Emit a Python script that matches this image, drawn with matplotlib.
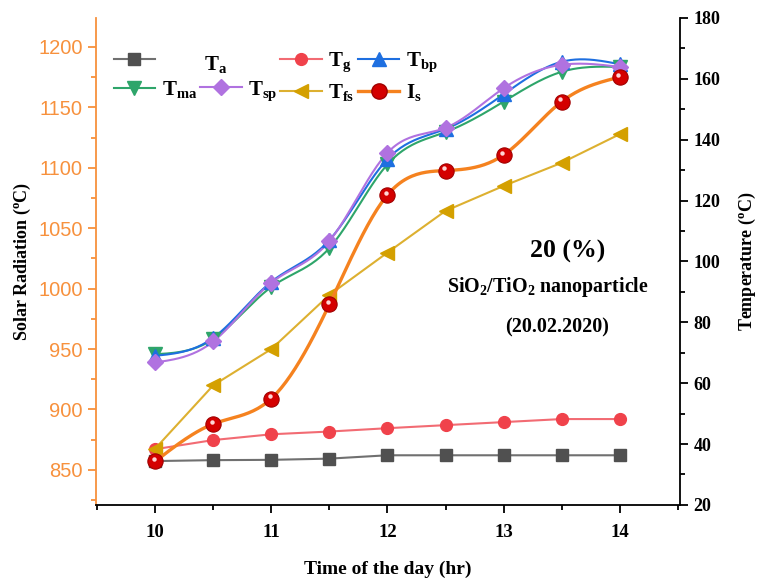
import numpy as np
import matplotlib
matplotlib.use("Agg")
import matplotlib.pyplot as plt
from matplotlib.lines import Line2D
from matplotlib.ticker import MultipleLocator

plt.rcParams['font.family'] = ['Liberation Serif', 'DejaVu Serif']
plt.rcParams['mathtext.fontset'] = 'custom'
plt.rcParams['mathtext.rm'] = 'Liberation Serif:bold'
plt.rcParams['mathtext.it'] = 'Liberation Serif:bold'
plt.rcParams['mathtext.bf'] = 'Liberation Serif:bold'

# ---------------- data ----------------
time_hr = [10, 10.5, 11, 11.5, 12, 12.5, 13, 13.5, 14]
T_a  = [34.4, 34.7, 34.8, 35.2, 36.3, 36.3, 36.3, 36.3, 36.3]
T_g  = [38.3, 41.3, 43.2, 44.1, 45.2, 46.2, 47.2, 48.2, 48.2]
T_bp = [69.0, 74.9, 93.3, 107.0, 133.6, 143.5, 154.9, 165.6, 164.8]
T_ma = [69.5, 74.5, 91.6, 104.4, 131.9, 142.5, 152.5, 162.3, 163.9]
T_sp = [66.8, 73.7, 93.0, 106.7, 135.7, 143.9, 156.9, 164.6, 163.9]
T_fs = [38.5, 59.3, 71.2, 89.0, 102.9, 116.6, 124.8, 132.4, 141.8]
I_s  = [857, 888, 909, 987, 1077.5, 1097.7, 1110.6, 1154.7, 1175]

x_ticks = [10, 11, 12, 13, 14]


def smooth(x, y, n=200):
    """Natural cubic spline for drawing a smooth line through the points."""
    x = np.asarray(x, float); y = np.asarray(y, float)
    m = len(x); h = np.diff(x)
    A = np.zeros((m, m)); r = np.zeros(m)
    A[0, 0] = A[-1, -1] = 1
    for i in range(1, m - 1):
        A[i, i - 1] = h[i - 1]; A[i, i] = 2 * (h[i - 1] + h[i]); A[i, i + 1] = h[i]
        r[i] = 3 * ((y[i + 1] - y[i]) / h[i] - (y[i] - y[i - 1]) / h[i - 1])
    c = np.linalg.solve(A, r)
    b = (y[1:] - y[:-1]) / h - h * (2 * c[:-1] + c[1:]) / 3
    d = (c[1:] - c[:-1]) / (3 * h)
    xs = np.linspace(x[0], x[-1], n)
    idx = np.clip(np.searchsorted(x, xs) - 1, 0, m - 2)
    dx = xs - x[idx]
    ys = y[idx] + b[idx] * dx + c[idx] * dx ** 2 + d[idx] * dx ** 3
    return xs, ys


fig = plt.figure(figsize=(7.59, 5.79), dpi=100)
ax = fig.add_axes([0.1265, 0.128, 0.7695, 0.841])
ax2 = ax.twinx()

orange = '#f7913d'

# right axis series
c_a, c_g, c_bp, c_ma, c_sp, c_fs = '#505050', '#f0424b', '#1e6fe0', '#2ea56a', '#b072e0', '#d4a000'
ax2.plot(time_hr, T_a, color='#707070', lw=1.5, marker='s', ms=8, mfc=c_a, mec=c_a, zorder=3)
ax2.plot(time_hr, T_g, color='#f26b73', lw=1.5, marker='o', ms=8.5, mfc=c_g, mec=c_g, zorder=3)
ax2.plot(time_hr, T_fs, color='#ddb030', lw=1.5, marker='<', ms=10, mfc=c_fs, mec=c_fs, zorder=3)
for y, col, mk, ms in [(T_ma, c_ma, 'v', 10), (T_bp, c_bp, '^', 10), (T_sp, c_sp, 'D', 8)]:
    xs, ys = smooth(time_hr, y)
    ax2.plot(xs, ys, color=col, lw=1.5, zorder=3)
    ax2.plot(time_hr, y, ls='none', marker=mk, ms=ms, mfc=col, mec=col, zorder=4)

# left axis: solar radiation
xs, ys = smooth(time_hr, I_s)
ax.set_zorder(ax2.get_zorder() + 1)
ax.patch.set_visible(False)
ax.plot(xs, ys, color='#f5821f', lw=2.4, zorder=5)
ax.plot(time_hr, I_s, ls='none', marker='o', ms=11, mfc='#d40000', mec='#a00000', mew=0.8, zorder=6)
ax.plot(np.array(time_hr) - 0.012, np.array(I_s) + 2.0, ls='none', marker='o', ms=3.2,
        mfc='#ffd6d6', mec='none', zorder=7)

# axes limits & ticks
ax.set_xlim(9.49, 14.52)
ax.set_ylim(821, 1224)
ax2.set_ylim(20, 180)
ax.set_xticks(x_ticks)
ax.xaxis.set_minor_locator(MultipleLocator(0.5))
ax.yaxis.set_major_locator(MultipleLocator(50))
ax.yaxis.set_minor_locator(MultipleLocator(25))
ax2.yaxis.set_major_locator(MultipleLocator(20))
ax2.yaxis.set_minor_locator(MultipleLocator(10))

for a in (ax, ax2):
    a.spines['top'].set_visible(False)
ax.spines['right'].set_visible(False)
ax2.spines['left'].set_visible(False)
ax2.spines['bottom'].set_visible(False)
ax.spines['left'].set_color(orange)
ax.spines['left'].set_linewidth(1.3)
ax.spines['bottom'].set_linewidth(1.3)
ax2.spines['right'].set_linewidth(1.3)

ax.tick_params(axis='y', which='both', colors=orange, direction='out', labelcolor=orange,
               labelsize=14.5, width=1.3)
ax.tick_params(axis='y', which='major', length=6)
ax.tick_params(axis='y', which='minor', length=3.5)
for lab in ax.get_yticklabels():
    lab.set_family(['Liberation Sans', 'DejaVu Sans'])
ax.tick_params(axis='x', which='both', direction='out', width=1.3, labelsize=13.5, pad=8)
ax.tick_params(axis='x', which='major', length=6)
ax.tick_params(axis='x', which='minor', length=3.5)
for lab in ax.get_xticklabels():
    lab.set_fontweight('bold')
ax2.tick_params(axis='y', which='both', direction='out', width=1.3, labelsize=13)
ax2.tick_params(axis='y', which='major', length=6)
ax2.tick_params(axis='y', which='minor', length=3.5)
for lab in ax2.get_yticklabels():
    lab.set_fontweight('bold')

ax.set_xlabel('Time of the day (hr)', fontsize=14, fontweight='bold', labelpad=14)
ax.set_ylabel('Solar Radiation ($\\mathregular{^{o}}$C)', fontsize=13, fontweight='bold', labelpad=4)
ax2.set_ylabel('Temperature ($\\mathregular{^{o}}$C)', fontsize=13, fontweight='bold', labelpad=12)

# annotations
ax.text(0.807, 0.52, '20 (%)', transform=ax.transAxes, ha='center', va='center',
        fontsize=18.5, fontweight='bold')
ax.text(0.774, 0.448, 'SiO$_\\mathbf{2}$/TiO$_\\mathbf{2}$ nanoparticle', transform=ax.transAxes,
        ha='center', va='center', fontsize=14.4, fontweight='bold')
ax.text(0.79, 0.365, '(20.02.2020)', transform=ax.transAxes, ha='center', va='center',
        fontsize=14.5, fontweight='bold')

# legend
h_a = Line2D([], [], color='#707070', lw=1.5, marker='s', ms=8, mfc=c_a, mec=c_a)
h_blank = Line2D([], [], color='none')
h_g = Line2D([], [], color='#f26b73', lw=1.5, marker='o', ms=8.5, mfc=c_g, mec=c_g)
h_bp = Line2D([], [], color=c_bp, lw=1.5, marker='^', ms=10, mfc=c_bp, mec=c_bp)
h_ma = Line2D([], [], color=c_ma, lw=1.5, marker='v', ms=10, mfc=c_ma, mec=c_ma)
h_sp = Line2D([], [], color=c_sp, lw=1.5, marker='D', ms=8, mfc=c_sp, mec=c_sp)
h_fs = Line2D([], [], color='#ddb030', lw=1.5, marker='<', ms=10, mfc=c_fs, mec=c_fs)
h_is = Line2D([], [], color='#f5821f', lw=2.4, marker='o', ms=11, mfc='#d40000', mec='#a00000')
handles = [h_a, h_ma, h_blank, h_sp, h_g, h_fs, h_bp, h_is]
labels = ['', 'T$_\\mathbf{ma}$', '', 'T$_\\mathbf{sp}$', 'T$_\\mathbf{g}$', 'T$_\\mathbf{fs}$',
          'T$_\\mathbf{bp}$', 'I$_\\mathbf{s}$']
leg = ax.legend(handles, labels, ncol=4, loc='upper left', bbox_to_anchor=(-0.002, 0.972),
                frameon=False, prop={'family': 'Liberation Serif', 'weight': 'bold', 'size': 15},
                handlelength=2.0, handletextpad=0.3, columnspacing=0.15, labelspacing=0.4)
# the T_a label sits apart from its symbol in the original legend
ax.text(0.185, 0.905, 'T$_\\mathbf{a}$', transform=ax.transAxes, ha='left', va='center',
        fontsize=15, fontweight='bold')

fig.savefig('out.png', dpi=100)
